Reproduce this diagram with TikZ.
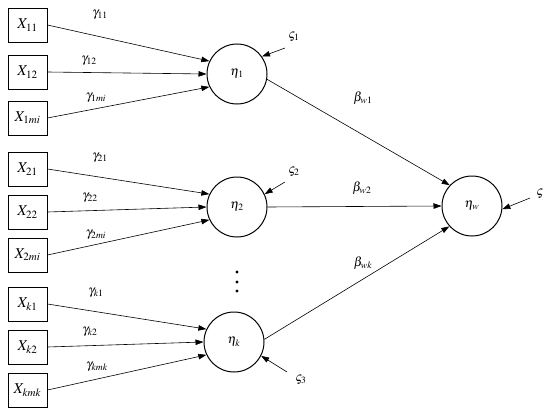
\documentclass[tikz,border=0pt]{standalone}
\usepackage{mathptmx}
\usetikzlibrary{arrows.meta, positioning}

\begin{document}
\begin{tikzpicture}[
    x=1pt, y=-1pt,
    obs node/.style={rectangle, draw, minimum width=39pt, minimum height=34pt, inner sep=1pt, line width=1pt, font=\fontsize{15}{17}\selectfont},
    lat node/.style={circle, draw, minimum size=60pt, inner sep=0pt, line width=1pt, font=\fontsize{13}{15}\selectfont},
    coef/.style={font=\fontsize{13}{15}\selectfont, inner sep=0pt},
    arr/.style={-{Triangle[length=8pt, width=5.5pt]}, line width=0.6pt},
]
    \useasboundingbox (0,0) rectangle (550,415);

    % Observed variables
    \node[obs node] (x11) at (27.5,25) {$X_{11}$};
    \node[obs node] (x12) at (27.5,72) {$X_{12}$};
    \node[obs node] (x1m) at (27.5,118) {$X_{1mi}$};
    \node[obs node] (x21) at (27.5,169) {$X_{21}$};
    \node[obs node] (x22) at (27.5,212) {$X_{22}$};
    \node[obs node] (x2m) at (27.5,255) {$X_{2mi}$};
    \node[obs node] (xk1) at (27.5,304) {$X_{k1}$};
    \node[obs node] (xk2) at (27.5,347) {$X_{k2}$};
    \node[obs node] (xkm) at (27.5,390) {$X_{kmk}$};

    % Latent variables
    \node[lat node] (eta1) at (237,74) {$\eta_1$};
    \node[lat node] (eta2) at (237,207) {$\eta_2$};
    \node[lat node] (etak) at (234,342) {$\eta_k$};
    \node[lat node] (etaw) at (472,206) {$\eta_w$};

    % Dots between groups
    \foreach \y in {272,282,291}
        \fill (237,\y) circle (1.6pt);

    % Loadings
    \draw[arr] (x11.east) -- (eta1.155);
    \draw[arr] (x12.east) -- (eta1.west);
    \draw[arr] (x1m.east) -- (eta1.205);
    \draw[arr] (x21.east) -- (eta2.155);
    \draw[arr] (x22.east) -- (eta2.west);
    \draw[arr] (x2m.east) -- (eta2.205);
    \draw[arr] (xk1.east) -- (etak.155);
    \draw[arr] (xk2.east) -- (etak.west);
    \draw[arr] (xkm.east) -- (etak.205);

    \node[coef] (g11) at (100,15) {$\gamma_{11}$};
    \node[coef] (g12) at (89,61) {$\gamma_{12}$};
    \node[coef] (g1m) at (96,98) {$\gamma_{1mi}$};
    \node[coef] (g21) at (100,158) {$\gamma_{21}$};
    \node[coef] (g22) at (90,198) {$\gamma_{22}$};
    \node[coef] (g2m) at (96,235) {$\gamma_{2mi}$};
    \node[coef] (gk1) at (96,293) {$\gamma_{k1}$};
    \node[coef] (gk2) at (90,332) {$\gamma_{k2}$};
    \node[coef] (gkm) at (97,367) {$\gamma_{kmk}$};

    % Paths to eta_w
    \draw[arr] (eta1.-10) -- (etaw.137);
    \draw[arr] (eta2.east) -- (etaw.west);
    \draw[arr] (etak.5) -- (etaw.222);

    \node[coef] (bw1) at (363,98) {$\beta_{w1}$};
    \node[coef] (bw2) at (362,188) {$\beta_{w2}$};
    \node[coef] (bwk) at (363,263) {$\beta_{wk}$};

    % Disturbances
    \coordinate (z1s) at (285,48);
    \coordinate (z2s) at (285,182);
    \coordinate (z3s) at (287,372);
    \coordinate (zws) at (530,198);
    \draw[arr] (z1s) -- (eta1.35);
    \draw[arr] (z2s) -- (eta2.25);
    \draw[arr] (z3s) -- (etak.-27);
    \draw[arr] (zws) -- (etaw.-6);

    \node[coef] (z1) at (294,37) {$\varsigma_1$};
    \node[coef] (z2) at (294,172) {$\varsigma_2$};
    \node[coef] (z3) at (301,380) {$\varsigma_3$};
    \node[coef] (zw) at (540,194) {$\varsigma$};

\end{tikzpicture}
\end{document}
